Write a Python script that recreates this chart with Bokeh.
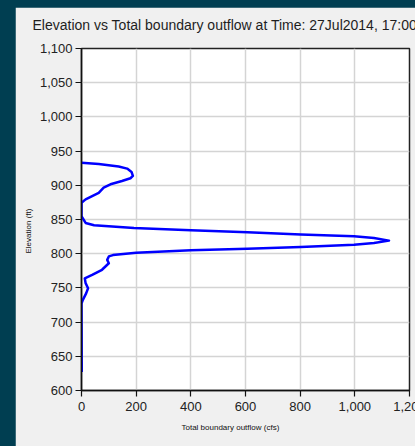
from bokeh.plotting import figure
from bokeh.embed import file_html
from bokeh.resources import INLINE
from bokeh.models import (SingleIntervalTicker, NumeralTickFormatter, Range1d,
                          GlobalInlineStyleSheet, Title)

# ---- data ----
title_text = "Elevation vs Total boundary outflow at Time: 27Jul2014, 17:00"
x_label = "Total boundary outflow (cfs)"
y_label = "Elevation (ft)"

outflow = [0, 63, 136, 167, 183, 188, 179, 148, 106, 81, 63, 39, 15, 0,
           0, 15, 46, 192, 400, 607, 802, 997, 1070, 1125, 1070, 997, 802,
           607, 400, 200, 115, 100, 94, 100, 75, 39, 12, 15, 24, 17, 5, 0, 1]
elevation = [933, 931, 927.4, 924.4, 919.6, 913.7, 910.3, 906.3, 901.5, 896.5,
             889, 884.3, 879.4, 874.4, 855, 845, 841.6, 837.7, 834.3, 831.3,
             828, 825.4, 823, 819.1, 815.6, 813.2, 809.7, 807.4, 804.9, 801.5,
             798, 796, 791, 786, 776.5, 769, 764, 757, 749.5, 742, 732.5, 727,
             627]

x_min, x_max, x_step = 0, 1200, 200
y_min, y_max, y_step = 600, 1100, 50

FONT = "Liberation Sans"

p = figure(width=430, height=439, output_backend="svg", toolbar_location=None,
           x_range=Range1d(x_min, x_max), y_range=Range1d(y_min, y_max),
           min_border_left=66, min_border_right=36, min_border_top=41,
           min_border_bottom=56)
p.margin = (7, 0, 0, 15)
p.stylesheets = [GlobalInlineStyleSheet(
    css="html, body { margin: 0 !important; padding: 0 !important; "
        "overflow: hidden !important; background: #003e51 !important; }")]

p.background_fill_color = "white"
p.border_fill_color = "#f0f0f0"
p.outline_line_color = "#222222"
p.outline_line_width = 1.5

# spacer between frame and title, then the title itself
p.add_layout(Title(text=" ", standoff=11, text_font_size="1px"), "above")
p.add_layout(Title(text=title_text, align="left", offset=-49, standoff=4,
                   text_font=FONT, text_font_size="14px",
                   text_font_style="normal", text_color="#1e1e1e"), "above")

p.xaxis.ticker = SingleIntervalTicker(interval=x_step)
p.yaxis.ticker = SingleIntervalTicker(interval=y_step)
p.xaxis.formatter = NumeralTickFormatter(format="0,0")
p.yaxis.formatter = NumeralTickFormatter(format="0,0")

for ax in (p.xaxis, p.yaxis):
    ax.axis_line_color = "#111111"
    ax.axis_line_width = 1.5
    ax.major_tick_line_color = "#111111"
    ax.major_tick_line_width = 1.2
    ax.major_tick_in = 0
    ax.major_tick_out = 6
    ax.minor_tick_line_color = None
    ax.major_label_text_font = FONT
    ax.major_label_text_font_size = "13px"
    ax.major_label_text_color = "#222222"

p.xaxis.major_label_standoff = 5
p.yaxis.major_label_standoff = 3

# axis titles (placed off-centre like the reference)
xt = Title(text=x_label, align="left", offset=100, standoff=15,
           text_font=FONT, text_font_size="8px", text_font_style="normal",
           text_color="#111111")
p.add_layout(xt, "below")
yt = Title(text=y_label, align="left", offset=137, standoff=8,
           text_font=FONT, text_font_size="8px", text_font_style="normal",
           text_color="#111111")
p.add_layout(yt, "left")

p.xgrid.grid_line_color = "#d4d4d4"
p.ygrid.grid_line_color = "#d4d4d4"
p.xgrid.grid_line_width = 1.5
p.ygrid.grid_line_width = 1.5

p.line(outflow, elevation, line_color="#0000ff", line_width=2.5,
       line_join="round")

open("out.html", "w").write(file_html(p, INLINE))
